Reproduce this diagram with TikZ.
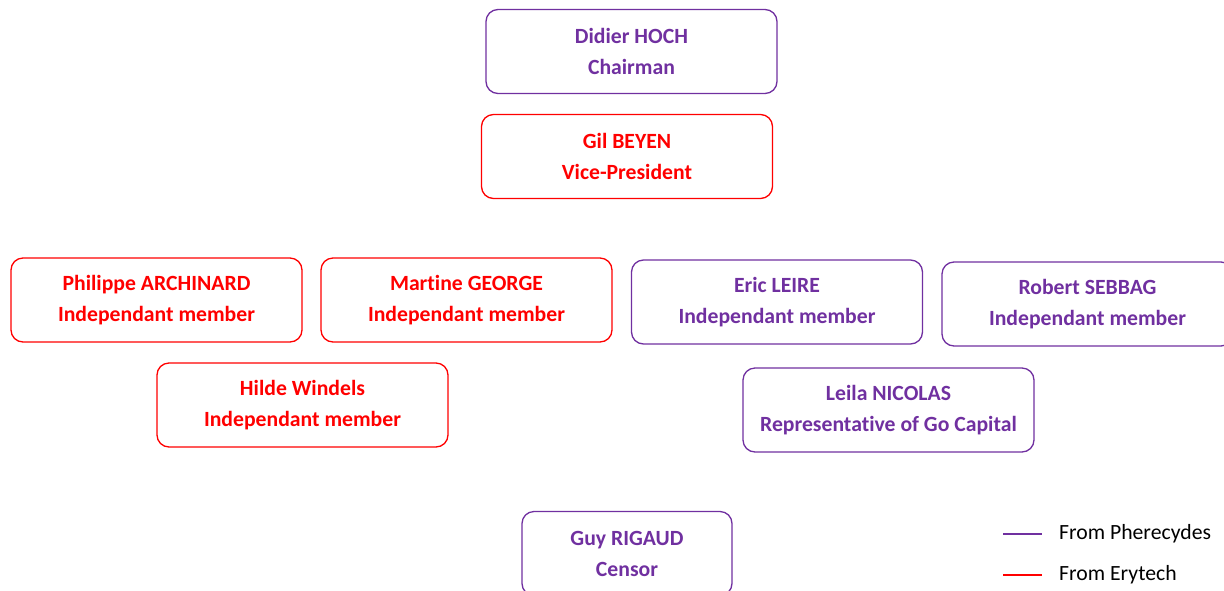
\documentclass[tikz,border=0pt]{standalone}
\usepackage{fontspec}
\setmainfont[Ligatures=NoCommon]{Carlito}
\definecolor{pher}{HTML}{7030A0}
\definecolor{ery}{HTML}{FF0000}
\tikzset{
  member/.style={draw=#1, text=#1, line width=1.3pt, rounded corners=12pt,
    minimum width=291pt, minimum height=84pt, align=center,
    font=\fontsize{21.7}{31}\selectfont\bfseries, inner sep=0pt},
  legline/.style={draw=#1, line width=2pt},
  legtext/.style={anchor=west, font=\fontsize{21.7}{26}\selectfont, inner sep=0pt}
}
\begin{document}
\begin{tikzpicture}[x=1pt,y=-1pt]
\useasboundingbox (0,0) rectangle (1224,590);
\clip (0,0) rectangle (1224,590);
\node[member=pher] (hoch) at (631.5,51.5) {Didier HOCH\\Chairman};
\node[member=ery] (beyen) at (627,156.5) {Gil BEYEN\\Vice-President};
\node[member=ery] (archinard) at (156.5,300) {Philippe ARCHINARD\\Independant member};
\node[member=ery] (george) at (466.5,300) {Martine GEORGE\\Independant member};
\node[member=pher] (leire) at (777,302) {Eric LEIRE\\Independant member};
\node[member=pher] (sebbag) at (1087.5,304) {Robert SEBBAG\\Independant member};
\node[member=ery] (windels) at (302.5,405) {Hilde Windels\\Independant member};
\node[member=pher] (nicolas) at (888.5,410) {Leila NICOLAS\\Representative of Go Capital};
\node[member=pher, minimum width=210pt] (rigaud) at (627,553.5) {Guy RIGAUD\\Censor};
\coordinate (p1) at (1003,534);
\coordinate (p2) at (1042,534);
\coordinate (r1) at (1003,575);
\coordinate (r2) at (1042,575);
\draw[legline=pher] (p1) -- (p2);
\draw[legline=ery] (r1) -- (r2);
\node[legtext] (lp) at (1059,534) {From Pherecydes};
\node[legtext] (lr) at (1059,575) {From Erytech};
\end{tikzpicture}
\end{document}
